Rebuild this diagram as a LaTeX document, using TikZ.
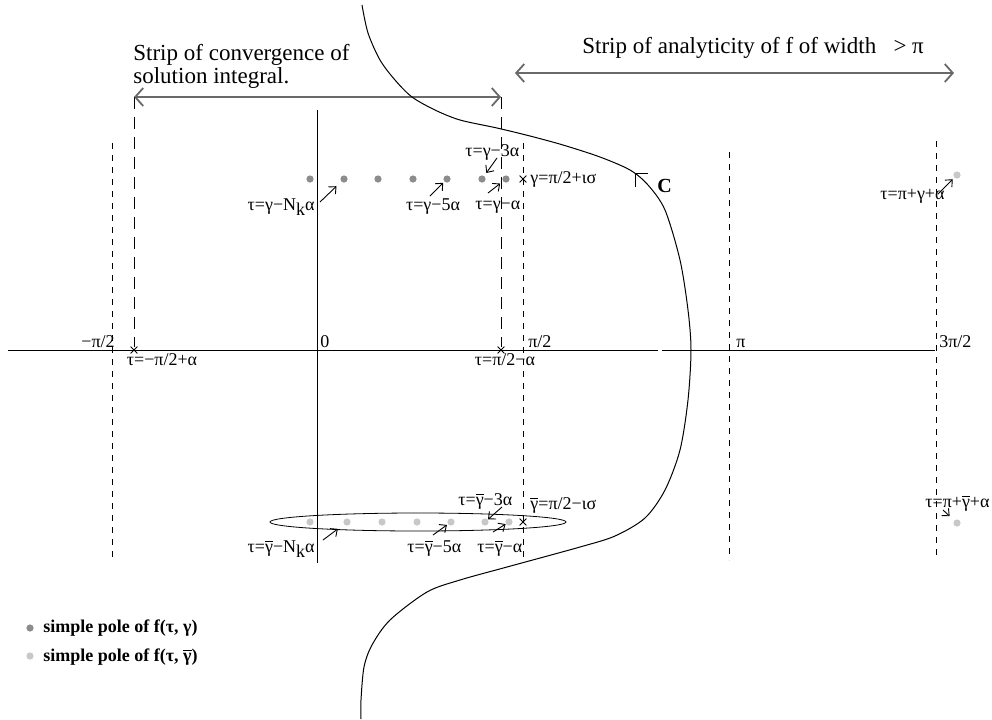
\documentclass[tikz,border=0pt]{standalone}
\usepackage{fontspec}
\setmainfont{Liberation Serif}
\usetikzlibrary{positioning,arrows.meta,shapes.misc}
\definecolor{poledark}{RGB}{140,140,140}
\definecolor{polelight}{RGB}{200,200,200}
\definecolor{stripgrey}{RGB}{105,105,105}
\newcommand{\gb}{$\overline{\hbox{γ}}$}
\newcommand{\Nk}{N\raisebox{-2.6pt}{k}}
\tikzset{
  lbl/.style   ={font=\fontsize{9}{10}\selectfont, inner sep=0pt},
  ttl/.style   ={font=\fontsize{11.5}{9.5}\selectfont, inner sep=0pt, align=left},
  leg/.style   ={font=\fontsize{9}{10}\selectfont\bfseries, inner sep=0pt, anchor=base west},
  pdark/.style ={circle, fill=poledark, inner sep=0pt, minimum size=3.6pt},
  plight/.style={circle, fill=polelight, inner sep=0pt, minimum size=3.6pt},
  xmark/.style ={cross out, draw, inner sep=0pt, minimum size=3pt, line width=0.4pt},
  ptr/.style   ={-{Straight Barb[length=2.8pt,width=5pt]}, line width=0.45pt},
  strip/.style ={{Straight Barb[length=4pt,width=9pt]}-{Straight Barb[length=4pt,width=9pt]},
                 draw=stripgrey, line width=0.9pt},
  bound/.style ={dash pattern=on 6pt off 4pt, line width=0.4pt},
  lattice/.style={dashed, line width=0.4pt},
}
\begin{document}
\begin{tikzpicture}[x=0.5pt,y=-0.5pt]
\useasboundingbox (0,0) rectangle (992,719);

% axes
\draw[line width=0.5pt] (8,350) -- (658,350);
\draw[line width=0.5pt] (662,350) -- (935,350);
\draw[line width=0.5pt] (317,110) -- (317,563);

% dashed lines at -pi/2, pi/2, pi, 3pi/2
\draw[lattice] (112,143) -- (112,560);
\draw[lattice] (523,143) -- (523,560);
\draw[lattice] (729,152) -- (729,560);
\draw[lattice] (936,141) -- (936,560);

% axis labels
\node[lbl,anchor=base] (mhalf) at (98,347) {−π/2};
\node[lbl,anchor=base west] (zero) at (320,347) {0};
\node[lbl,anchor=base west] (phalf) at (528,347) {π/2};
\node[lbl,anchor=base west] (pi) at (736,347) {π};
\node[lbl,anchor=base west] (thalf) at (939,347) {3π/2};

% strips
\coordinate (cl) at (134,97);
\coordinate (cr) at (501,97);
\coordinate (al) at (515,73);
\coordinate (ar) at (954,73);
\node[xmark] (xl) at (134,350) {};
\node[xmark] (xr) at (501,350) {};
\draw[strip] (cl) -- (cr);
\draw[strip] (al) -- (ar);
\draw[bound] (cl) -- (xl);
\draw[bound] (cr) -- (xr);
\node[ttl,anchor=base west] (conv) at (133,83) {Strip of convergence of\\solution integral.};
\node[ttl,anchor=base west] (anal) at (582,53) {Strip of analyticity of f of width \ \ > π};
\node[lbl,anchor=base] (tl) at (162,365) {τ=−π/2+α};
\node[lbl,anchor=base] (tr) at (505,365) {τ=π/2−α};

% poles of f(tau,gamma)
\foreach \i/\x in {1/310,2/344,3/378,4/413,5/447,6/482,7/506}
  \node[pdark] (p\i) at (\x,179) {};
\node[xmark] (xg) at (523,179) {};
\node[lbl,anchor=base west] (gam) at (530,183) {γ=π/2+ισ};
\node[lbl,anchor=base east] (lN) at (315,210) {τ=γ−\Nk α};
\node[lbl,anchor=base] (l5) at (433,210) {τ=γ−5α};
\node[lbl,anchor=base west] (l1) at (475,209) {τ=γ−α};
\node[lbl,anchor=base west] (l3) at (465,156) {τ=γ−3α};
\coordinate (tN) at (320,202);
\coordinate (t5) at (430,196);
\coordinate (t1) at (488,193);
\coordinate (t3) at (497,158);
\draw[ptr,shorten >=3.2pt] (tN) -- (p2);
\draw[ptr,shorten >=0.7pt] (t5) -- (p5);
\draw[ptr,shorten >=1.7pt] (t1) -- (p7);
\draw[ptr,shorten >=1.7pt] (t3) -- (p6);

% poles of f(tau,gamma bar)
\draw[line width=0.4pt] (418,522) ellipse [x radius=148, y radius=9];
\foreach \i/\x in {1/310,2/347,3/382,4/417,5/451,6/485,7/509}
  \node[plight] (q\i) at (\x,522) {};
\node[xmark] (xgb) at (523,522) {};
\node[lbl,anchor=base west] (gamb) at (530,509) {\gb=π/2−ισ};
\node[lbl,anchor=base east] (mN) at (315,552) {τ=\gb−\Nk α};
\node[lbl,anchor=base west] (m5) at (407,552) {τ=\gb−5α};
\node[lbl,anchor=base west] (m1) at (477,552) {τ=\gb−α};
\node[lbl,anchor=base west] (m3) at (458,505) {τ=\gb−3α};
\coordinate (bN) at (323,540);
\coordinate (b5) at (433,535);
\coordinate (b1) at (493,532);
\coordinate (b3) at (502,507);
\draw[ptr,shorten >=3.7pt] (bN) -- (q2);
\draw[ptr,shorten >=0.5pt] (b5) -- (q5);
\draw[ptr] (b1) -- (q7);
\draw[ptr] (b3) -- (q6);

% poles beyond pi
\node[plight] (r1) at (957,175) {};
\node[plight] (r2) at (957,523) {};
\node[lbl,anchor=base west] (lr1) at (880,199) {τ=π+γ+α};
\node[lbl,anchor=base west] (lr2) at (925,507) {τ=π+\gb+α};
\coordinate (rt) at (938,194);
\coordinate (rb) at (943,510);
\draw[ptr,shorten >=1pt] (rt) -- (r1);
\draw[ptr,shorten >=3pt] (rb) -- (r2);

% contour C
\draw[line width=0.5pt] plot[smooth] coordinates {(362,5) (368,33) (380,60) (395,80) (412,97)
  (435,110) (460,120) (497,128) (530,136) (563,145) (600,157) (630,170) (648,185) (665,210)
  (680,260) (688,310) (691,350) (688,400) (680,450) (665,490) (645,518) (615,536) (580,547)
  (507,567) (460,580) (427,592) (390,620) (372,645) (364,667) (361,700) (361,719)};
\coordinate (cc) at (635,173);
\draw[line width=0.4pt] (648,173) -- (cc) -- (635,187);
\node[font=\fontsize{10}{11}\selectfont\bfseries,inner sep=0pt,anchor=base west] (cname) at (657,192) {C};

% legend
\node[pdark] (ld) at (30,628) {};
\node[plight] (ll) at (30,656) {};
\node[leg] (tld) at (43,632) {simple pole of f(τ, γ)};
\node[leg] (tll) at (43,661) {simple pole of f(τ, \gb)};
\end{tikzpicture}
\end{document}
